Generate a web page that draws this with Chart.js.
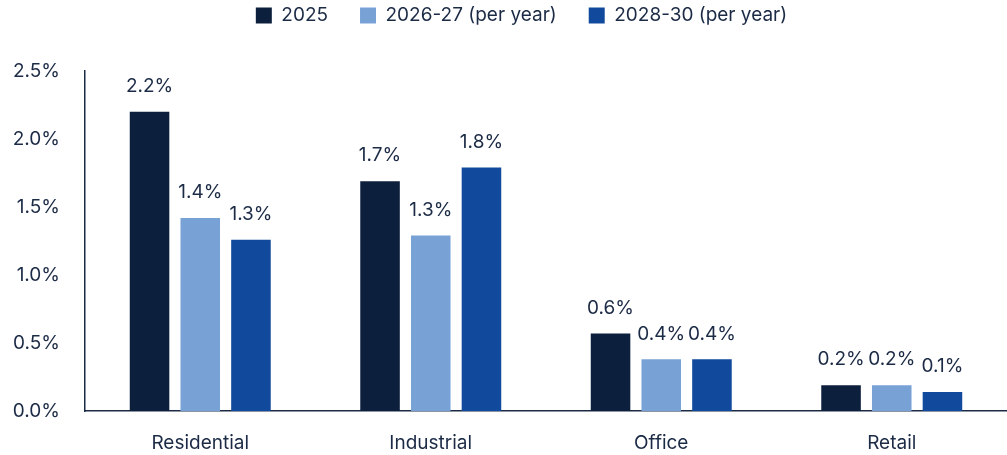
<!DOCTYPE html>
<html>
<head>
<meta charset="utf-8">
<script src="https://cdn.jsdelivr.net/npm/chart.js@4"></script>
<style>
  html, body { margin: 0; padding: 0; background: #fff; }
  #wrap { width: 1007px; height: 455px; }
</style>
</head>
<body>
<div id="wrap"><canvas id="chart" width="1007" height="455"></canvas></div>
<script>
const categories = ['Residential', 'Industrial', 'Office', 'Retail'];
const seriesNames = ['2025', '2026-27 (per year)', '2028-30 (per year)'];
const values2025 = [2.2, 1.69, 0.57, 0.19];
const values2627 = [1.42, 1.29, 0.38, 0.19];
const values2830 = [1.26, 1.79, 0.38, 0.14];
const yTicks = [0, 0.5, 1.0, 1.5, 2.0, 2.5];

const colors = ['#0c1f3d', '#78a2d6', '#114a9c'];
const textColor = '#1b2a45';
const fontFamily = 'Inter, "Noto Sans", sans-serif';

// draws the value above each bar
const barLabels = {
  id: 'barLabels',
  afterDatasetsDraw(chart) {
    const ctx = chart.ctx;
    ctx.save();
    ctx.fillStyle = textColor;
    ctx.font = '19px ' + fontFamily;
    ctx.textAlign = 'center';
    ctx.textBaseline = 'bottom';
    chart.data.datasets.forEach((ds, i) => {
      chart.getDatasetMeta(i).data.forEach((bar, j) => {
        ctx.fillText(ds.data[j].toFixed(1) + '%', bar.x, bar.y - 16);
      });
    });
    ctx.restore();
  }
};

// legend in the original sits a bit right of the canvas centre
const legendShift = {
  id: 'legendShift',
  afterLayout(chart) {
    if (chart.legend) {
      chart.legend.left += 18;
      chart.legend.right += 18;
    }
  }
};

const ctx = document.getElementById('chart').getContext('2d');
new Chart(ctx, {
  type: 'bar',
  data: {
    labels: categories,
    datasets: [values2025, values2627, values2830].map((vals, i) => ({
      label: seriesNames[i],
      data: vals,
      backgroundColor: colors[i],
      borderWidth: 0,
      barPercentage: 0.78,
      categoryPercentage: 0.66
    }))
  },
  options: {
    responsive: false,
    animation: false,
    layout: { padding: { top: -26, right: 0, left: 0, bottom: 0 } },
    plugins: {
      legend: {
        position: 'top',
        labels: {
          color: textColor,
          font: { family: fontFamily, size: 19 },
          boxWidth: 16,
          boxHeight: 16,
          padding: 32
        }
      },
      // empty title used as a spacer under the legend
      title: {
        display: true,
        text: '',
        weight: 500,
        font: { size: 1, lineHeight: 1 },
        padding: { top: 17, bottom: 18 }
      },
      tooltip: { enabled: false }
    },
    scales: {
      x: {
        afterFit(axis) { axis.height = 44; },
        grid: { display: false, drawTicks: false },
        border: { color: textColor, width: 1.5 },
        ticks: { color: textColor, font: { family: fontFamily, size: 19 }, padding: 21 }
      },
      y: {
        min: 0,
        max: 2.5,
        afterBuildTicks(axis) { axis.ticks = yTicks.map(v => ({ value: v })); },
        afterFit(axis) { axis.width = 85; },
        grid: { display: false, drawTicks: false },
        border: { color: textColor, width: 1.5 },
        ticks: {
          color: textColor,
          font: { family: fontFamily, size: 19 },
          padding: 25,
          callback: v => v.toFixed(1) + '%'
        }
      }
    }
  },
  plugins: [barLabels, legendShift]
});
</script>
</body>
</html>
